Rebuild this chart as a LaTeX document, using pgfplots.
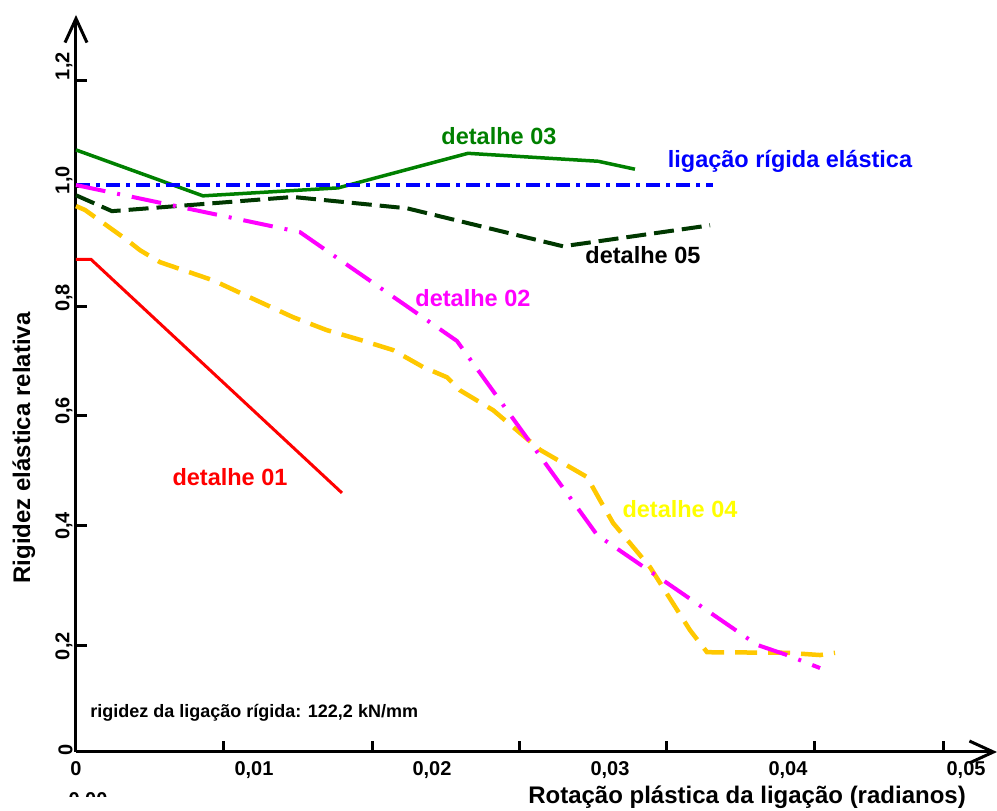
\documentclass[border=0pt]{standalone}
\usepackage{fontspec}
\setmainfont{Liberation Sans}
\usepackage{pgfplots}
\pgfplotsset{compat=1.18}
\usetikzlibrary{arrows.meta}
\definecolor{cgreen}{RGB}{0,128,0}
\definecolor{cdark}{RGB}{0,56,0}
\definecolor{cgold}{RGB}{255,200,0}
\definecolor{cyellow}{RGB}{255,255,0}
\definecolor{cmag}{RGB}{255,0,255}
\newcommand{\tfont}[1]{\bfseries\fontsize{#1}{#1}\selectfont}
\begin{document}
\begin{tikzpicture}[x=1pt,y=1pt]
\useasboundingbox (0,0) rectangle (997,811);
\begin{axis}[
  at={(76pt,59pt)}, anchor=south west,
  scale only axis, width=921pt, height=737pt,
  xmin=0, xmax=0.05174, ymin=0, ymax=1.30,
  scaled x ticks=false, scaled y ticks=false,
  axis lines=left,
  axis line style={line width=3pt, -{Straight Barb[length=24pt,width=22pt,line width=3pt]}},
  tick align=inside,
  major tick length=0pt,
  xtick={0,0.01,0.02,0.03,0.04,0.05},
  xticklabels={0,{0,01},{0,02},{0,03},{0,04},{0,05}},
  ytick={0.009,0.192,0.404,0.607,0.806,1.014,1.215},
  yticklabels={0,{0,2},{0,4},{0,6},{0,8},{1,0},{1,2}},
  extra x ticks={0.00826,0.01663,0.02494,0.03315,0.04146,0.04876},
  extra x tick labels={},
  extra y ticks={0.187,0.399,0.594,0.785,0.998,1.185},
  extra y tick labels={},
  extra tick style={major tick length=11pt, tick style={line width=3pt, black}},
  xticklabel style={font=\tfont{20}, text=black, yshift=-6pt},
  yticklabel style={font=\tfont{20}, text=black, rotate=90, anchor=south, xshift=-3pt},
  xlabel={Rotação plástica da ligação (radianos)},
  ylabel={Rigidez elástica relativa},
  xlabel style={font=\tfont{24}, at={(axis description cs:0.7286,-0.061)}, anchor=center},
  ylabel style={font=\tfont{24}, at={(axis description cs:-0.0566,0.4125)}, anchor=center, rotate=0},
  clip=false,
]
\addplot[red, line width=3pt] coordinates {(0,0.869) (0.00084,0.869) (0.01494,0.457)};
\addplot[cgreen, line width=3.5pt] coordinates {(0,1.062) (0.00713,0.981) (0.01472,0.995) (0.02202,1.056) (0.02933,1.042) (0.0314,1.028)};
\addplot[blue, line width=3.5pt, dash pattern=on 14pt off 6pt on 4pt off 6pt] coordinates {(0,1.0) (0.03579,1.0)};
\addplot[cdark, line width=4pt, dash pattern=on 20pt off 8pt] coordinates {(0,0.982) (0.00202,0.954) (0.01219,0.979) (0.0186,0.959) (0.02736,0.892) (0.03562,0.929)};
\addplot[cgold, line width=4.5pt, dash pattern=on 22pt off 11pt] coordinates {
(0,0.963) (0.00051,0.956) (0.00287,0.903) (0.0036,0.885) (0.00472,0.864) (0.0077,0.832) (0.00921,0.810) (0.01129,0.780) (0.01219,0.767) (0.0141,0.744) (0.01596,0.727) (0.01781,0.709) (0.0195,0.679) (0.02084,0.661) (0.02157,0.638) (0.02343,0.603) (0.02607,0.533) (0.02871,0.485) (0.02944,0.444) (0.03017,0.404) (0.03225,0.326) (0.03449,0.215) (0.03545,0.176) (0.03994,0.175) (0.0418,0.171) (0.04264,0.175)};
\addplot[cmag, line width=4pt, dash pattern=on 30pt off 12pt on 3pt off 12pt] coordinates {(0,1.0) (0.01258,0.917) (0.0214,0.725) (0.02927,0.383) (0.03826,0.189) (0.03994,0.171) (0.0418,0.148)};
\node[font=\tfont{23.5}, text=cgreen] at (axis cs:0.02376,1.086) {detalhe 03};
\node[font=\tfont{23.5}, text=blue] at (axis cs:0.04011,1.041) {ligação rígida elástica};
\node[font=\tfont{23.5}, text=black] at (axis cs:0.03185,0.877) {detalhe 05};
\node[font=\tfont{23.5}, text=cmag] at (axis cs:0.0223,0.801) {detalhe 02};
\node[font=\tfont{23.5}, text=cyellow] at (axis cs:0.03393,0.4286) {detalhe 04};
\node[font=\tfont{23.5}, text=red] at (axis cs:0.00865,0.485) {detalhe 01};
\node[font=\tfont{18}, text=black, anchor=west, inner sep=0pt] at (axis cs:0.00079,0.0688) {rigidez da ligação rígida: 122,2 kN/mm};
\end{axis}
\begin{scope}
\clip (60,14) rectangle (130,40);
\node[font=\tfont{20}] at (88,10) {0,00};
\end{scope}
\end{tikzpicture}
\end{document}
